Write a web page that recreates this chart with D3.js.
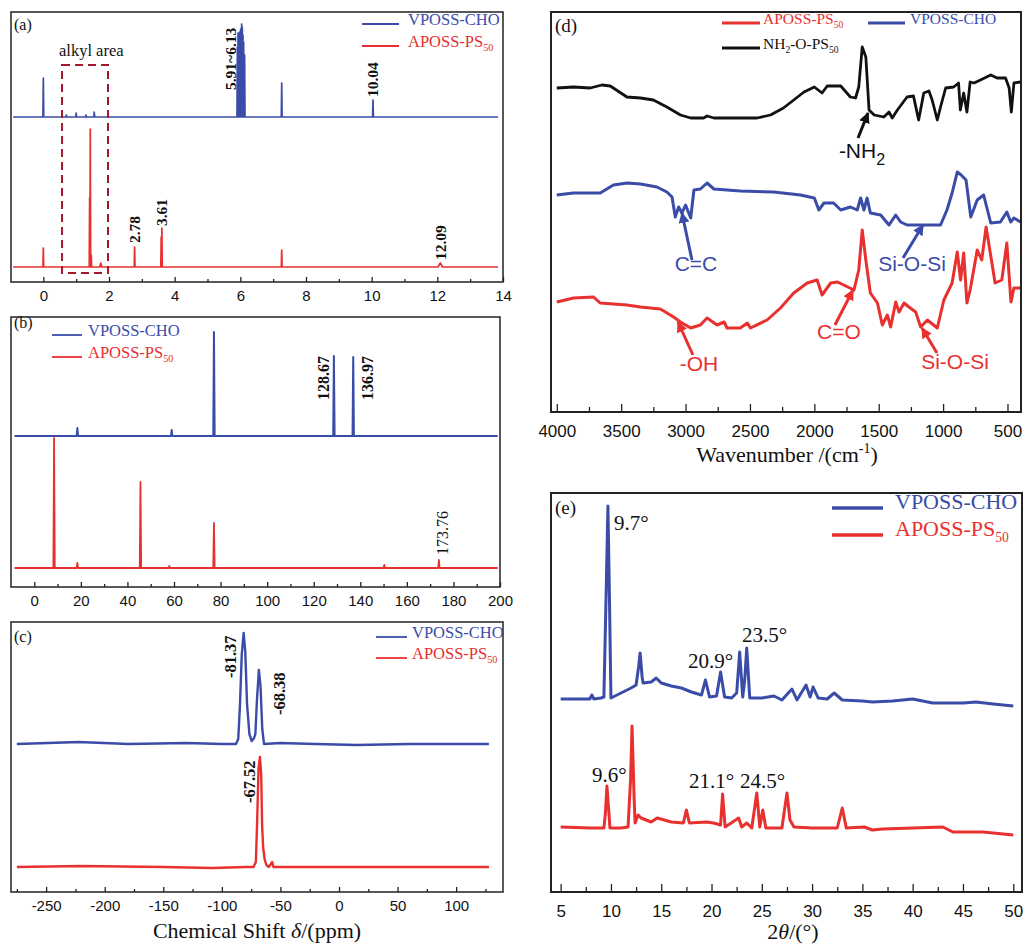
<!DOCTYPE html>
<html><head><meta charset="utf-8">
<script src="https://cdn.jsdelivr.net/npm/d3@7"></script>
<style>body{margin:0;background:#fff}svg{display:block}</style>
</head><body>
<svg id="c" width="1024" height="945"></svg>
<script>
// ---------------- DATA ----------------
const seriesNames = ["VPOSS-CHO", "APOSS-PS50", "NH2-O-PS50"];
// (a) 1H NMR stick peaks [ppm, height, halfwidth?]
const aTicks = [0, 2, 4, 6, 8, 10, 12, 14];
const aMinorTicks = [1, 3, 5, 7, 9, 11, 13];
const aBluePeaks = [[0, 39], [0.70, 2], [1.00, 4], [1.30, 2], [1.55, 5],
  [5.91, 70], [5.93, 84], [5.95, 80], [5.98, 85], [6.01, 88], [6.04, 93], [6.06, 90], [6.08, 82], [6.10, 75], [6.13, 62],
  [7.26, 34], [10.04, 17]];
const aRedPeaks = [[0, 19], [1.41, 69], [1.43, 138], [1.46, 12], [1.75, 4, 0.03], [2.78, 20], [3.59, 30], [3.61, 39],
  [7.26, 17], [12.09, 4, 0.07]];
const aOffsets = [165, 15];
const aLabels = [["5.91~6.13", 5.91], ["10.04", 10.04], ["2.78", 2.78], ["3.61", 3.61], ["12.09", 12.09]];
const aBox = [0.57, 1.97, 9, 217];

// (b) 13C NMR
const bTicks = [0, 20, 40, 60, 80, 100, 120, 140, 160, 180, 200];
const bMinorTicks = [10, 30, 50, 70, 90, 110, 130, 150, 170, 190];
const bBluePeaks = [[18.5, 8], [59, 6], [77.16, 104], [128.67, 80], [136.97, 79]];
const bRedPeaks = [[8.5, 130], [18.5, 5], [45.6, 86], [58, 2], [77.16, 45], [150.3, 3], [173.76, 8]];
const bOffsets = [151, 19];
const bLabels = [["128.67", 128.67], ["136.97", 136.97], ["173.76", 173.76]];

// (c) 29Si NMR [ppm, intensity above baseline]
const cTicks = [-250, -200, -150, -100, -50, 0, 50, 100];
const cMinorTicks = [-275, -225, -175, -125, -75, -25, 25, 75, 125];
const cBlue = [[-275, 0], [-222, 2], [-180, 0], [-130, 1], [-100, 0], [-88, 0], [-86, 5], [-84.5, 40], [-83, 90], [-81.4, 111],
  [-80, 92], [-78.5, 40], [-76.5, 10], [-74.5, 3], [-72.5, 6], [-71.4, 10], [-70, 45], [-68.4, 74], [-67, 58], [-65.5, 15],
  [-64, 0], [-50, 1], [-20, 0], [15, -1], [60, 0], [128, 0]];
const cRed = [[-275, 0], [-220, 1], [-150, 0], [-108, -1], [-80, 0], [-73, 0], [-71, 5], [-70, 40], [-68.7, 98], [-67.5, 110],
  [-66.4, 92], [-65.6, 40], [-64.7, 19], [-63.5, 8], [-62, 2], [-60, 0], [-57, 5], [-56, 0], [0, 0], [60, 0], [128, 0]];
const cOffsets = [148, 25];
const cLabels = [["-81.37", -81.37], ["-68.38", -68.38], ["-67.52", -67.52]];

// (d) FT-IR [wavenumber, transmittance a.u.]
const dTicks = [4000, 3500, 3000, 2500, 2000, 1500, 1000, 500];
const dMinorTicks = [3750, 3250, 2750, 2250, 1750, 1250, 750];
const dBlack = [[4000, 324], [3870, 325], [3740, 324], [3650, 327], [3585, 326], [3455, 315], [3350, 314], [3250, 312],
  [3145, 305], [3040, 297], [2960, 294], [2860, 294], [2833, 296], [2780, 294], [2445, 294], [2340, 297], [2240, 304],
  [2160, 312], [2080, 320], [2000, 325], [1940, 319], [1900, 326], [1795, 326], [1720, 315], [1680, 314], [1655, 325],
  [1628, 365], [1600, 355], [1575, 302], [1535, 297], [1460, 295], [1420, 300], [1395, 294], [1355, 302], [1280, 315],
  [1230, 316], [1190, 292], [1150, 319], [1110, 321], [1085, 312], [1045, 292], [1020, 305], [980, 324], [918, 325],
  [880, 329], [866, 302], [840, 319], [815, 300], [790, 330], [760, 329], [710, 332], [630, 337], [580, 334], [515, 334],
  [487, 324], [470, 300], [450, 329], [400, 330]];
const dBlue = [[4000, 217], [3870, 219], [3663, 219], [3560, 227], [3455, 229], [3350, 228], [3222, 225], [3145, 220],
  [3105, 215], [3080, 195], [3054, 205], [3028, 199], [3000, 207], [2960, 194], [2935, 222], [2885, 223], [2833, 229],
  [2780, 223], [2575, 221], [2315, 220], [2107, 217], [2000, 214], [1965, 202], [1925, 209], [1850, 209], [1795, 202],
  [1720, 205], [1667, 202], [1640, 214], [1615, 202], [1590, 214], [1565, 199], [1485, 197], [1420, 187], [1368, 197],
  [1330, 190], [1280, 187], [1020, 187], [970, 202], [930, 219], [890, 240], [860, 237], [822, 232], [785, 195],
  [735, 212], [685, 217], [630, 189], [555, 190], [505, 200], [475, 190], [450, 194], [400, 190]];
const dRed = [[4000, 110], [3870, 114], [3715, 115], [3663, 109], [3455, 107], [3350, 105], [3196, 103], [3093, 95],
  [3040, 90], [2960, 84], [2885, 87], [2833, 94], [2755, 87], [2700, 90], [2678, 84], [2575, 84], [2520, 89], [2496, 84],
  [2367, 92], [2263, 104], [2160, 119], [2055, 129], [1978, 132], [1940, 117], [1873, 129], [1820, 130], [1692, 122],
  [1655, 142], [1628, 182], [1600, 152], [1565, 119], [1510, 109], [1472, 87], [1433, 97], [1407, 85], [1368, 110],
  [1342, 100], [1303, 109], [1265, 105], [1213, 100], [1174, 85], [1122, 92], [1045, 84], [994, 112], [930, 129],
  [890, 160], [864, 132], [840, 159], [815, 109], [790, 122], [735, 162], [700, 152], [666, 185], [596, 129], [544, 132],
  [505, 169], [473, 110], [450, 124], [400, 124]];
// annotations: [text, sub, wavenumber, value, series]
const dNotes = [["-NH", "2", 1583, 299, 2], ["C=C", "", 3028, 199, 0], ["Si-O-Si", "", 1156, 187, 0],
  ["-OH", "", 3059, 90, 1], ["C=O", "", 1700, 122, 1], ["Si-O-Si", "", 1164, 84, 1]];

// (e) XRD [2theta, intensity]
const eTicks = [5, 10, 15, 20, 25, 30, 35, 40, 45, 50];
const eMinorTicks = [7.5, 12.5, 17.5, 22.5, 27.5, 32.5, 37.5, 42.5, 47.5];
const eBlue = [[5, 193], [7.9, 193], [8.1, 197], [8.3, 193], [9, 194], [9.3, 195], [9.55, 312], [9.7, 386], [9.85, 295],
  [10, 194], [11, 199], [12, 204], [12.5, 207], [12.75, 225], [12.9, 239], [13.1, 215], [13.2, 209], [14, 210], [14.5, 214],
  [15, 209], [16, 206], [17, 204], [18, 200], [19, 197], [19.4, 212], [19.8, 195], [20.5, 196], [20.9, 220], [21.3, 195],
  [22, 194], [22.5, 199], [22.8, 240], [23.1, 195], [23.3, 212], [23.5, 244], [23.8, 194], [25, 194], [26.2, 196],
  [27, 192], [28, 203], [28.5, 192], [29.4, 207], [29.8, 195], [30.1, 205], [30.6, 194], [31.5, 193], [32.2, 199],
  [33, 192], [35, 191], [36, 190], [38, 191], [40, 193], [42, 189], [45, 189], [46.3, 190], [48, 188], [50, 186]];
const eRed = [[5, 65], [8, 64], [9.3, 64], [9.45, 79], [9.6, 106], [9.8, 79], [9.9, 64], [11, 64], [11.7, 65], [11.95, 112],
  [12.1, 166], [12.3, 95], [12.4, 69], [12.7, 77], [13, 74], [14, 70], [14.6, 74], [16, 70], [17.2, 69], [17.5, 82],
  [17.8, 69], [19.5, 70], [20.2, 69], [20.9, 67], [21.1, 98], [21.35, 65], [22.7, 74], [23, 65], [23.5, 69], [24, 64],
  [24.5, 99], [24.8, 65], [25.1, 82], [25.4, 64], [27, 64], [27.5, 99], [27.8, 72], [28.2, 65], [30, 64], [32.5, 64],
  [33, 84], [33.4, 64], [35.2, 65], [36, 62], [37, 63], [43, 65], [44, 60], [47, 60], [50, 57]];
const eLabels = [["9.7°", 9.7, 0], ["20.9°", 20.9, 0], ["23.5°", 23.5, 0], ["9.6°", 9.6, 1], ["21.1°", 21.1, 1], ["24.5°", 24.5, 1]];

// ---------------- DRAWING ----------------
const BLUE = "#3a4ca8", RED = "#e8302f", BLACK = "#111", BOXRED = "#a0182a";
const colors = [BLUE, RED, BLACK];
const SERIF = "'Liberation Serif','Times New Roman',serif";
const SANS = "'Liberation Sans',Arial,sans-serif";
const svg = d3.select("#c");

function frame(x0, y0, x1, y1, sw) {
  svg.append("rect").attr("x", x0).attr("y", y0).attr("width", x1 - x0).attr("height", y1 - y0)
    .attr("fill", "none").attr("stroke", "#222").attr("stroke-width", sw);
}
function bottomAxis(scale, y, major, minor, majLen, minLen, pad, fs) {
  const gm = svg.append("g").attr("transform", `translate(0,${y})`)
    .call(d3.axisBottom(scale).tickValues(minor).tickSizeInner(-minLen).tickSizeOuter(0).tickFormat(""));
  gm.select(".domain").remove();
  gm.selectAll("line").attr("stroke", "#222").attr("stroke-width", 1.3);
  const g = svg.append("g").attr("transform", `translate(0,${y})`)
    .call(d3.axisBottom(scale).tickValues(major).tickSizeInner(-majLen).tickSizeOuter(0).tickPadding(pad).tickFormat(d => String(d)));
  g.select(".domain").remove();
  g.selectAll("line").attr("stroke", "#222").attr("stroke-width", 1.3);
  g.selectAll("text").attr("font-family", SANS).attr("font-size", fs).attr("fill", "#111");
}
function sticks(peaks, x0, x1, w) {
  const pts = [[x0, 0]];
  peaks.slice().sort((a, b) => a[0] - b[0]).forEach(p => {
    const hw = p[2] || w;
    pts.push([p[0] - hw, 0], [p[0], p[1]], [p[0] + hw, 0]);
  });
  pts.push([x1, 0]);
  return pts;
}
function drawLine(pts, x, y, off, color, sw) {
  svg.append("path").datum(pts)
    .attr("d", d3.line().x(d => x(d[0])).y(d => y(d[1] + off)))
    .attr("fill", "none").attr("stroke", color).attr("stroke-width", sw).attr("stroke-linejoin", "round");
}
function richText(parent, x, y, parts, fs, color, family, anchor) {
  const t = parent.append("text").attr("x", x).attr("y", y).attr("font-family", family)
    .attr("font-size", fs).attr("fill", color).attr("text-anchor", anchor || "start");
  parts.forEach(([s, sub]) => {
    if (sub) t.append("tspan").attr("font-size", fs * 0.62).attr("dy", fs * 0.28).text(s);
    else t.append("tspan").attr("dy", t.selectAll("tspan").size() ? -fs * 0.28 : 0).text(s);
  });
  return t;
}
function nameParts(i) {
  if (i === 0) return [["VPOSS-CHO", false]];
  if (i === 1) return [["APOSS-PS", false], ["50", true]];
  return [["NH", false], ["2", true], ["-O-PS", false], ["50", true]];
}
function legendItem(i, lx0, lx1, ly, tx, fs, sw) {
  svg.append("line").attr("x1", lx0).attr("x2", lx1).attr("y1", ly).attr("y2", ly)
    .attr("stroke", colors[i]).attr("stroke-width", sw);
  richText(svg, tx, ly + fs * 0.33, nameParts(i), fs, colors[i], SERIF);
}
function panelLabel(s, x, y, fs) {
  svg.append("text").attr("x", x).attr("y", y).attr("font-family", SERIF).attr("font-size", fs).attr("fill", "#111").text(s);
}
function vLabel(s, cx, yb, fs, bold, color) {
  svg.append("text").attr("transform", `translate(${cx},${yb}) rotate(-90)`).attr("dy", "0.35em")
    .attr("font-family", SERIF).attr("font-size", fs).attr("font-weight", bold ? "bold" : "normal")
    .attr("fill", color || "#111").text(s);
}

// ---- (a)
{
  const x = d3.scaleLinear().domain([-1, 14]).range([10.5, 503]);
  const y = d3.scaleLinear().domain([0, 270]).range([282, 12]);
  drawLine(sticks(aBluePeaks, -0.92, 13.85, 0.012), x, y, aOffsets[0], BLUE, 1.7);
  drawLine(sticks(aRedPeaks, -0.92, 13.85, 0.012), x, y, aOffsets[1], RED, 1.7);
  svg.append("rect").attr("x", x(aBox[0])).attr("y", y(aBox[3])).attr("width", x(aBox[1]) - x(aBox[0]))
    .attr("height", y(aBox[2]) - y(aBox[3])).attr("fill", "none").attr("stroke", BOXRED)
    .attr("stroke-width", 2).attr("stroke-dasharray", "8,5");
  svg.append("text").attr("x", 59).attr("y", 56).attr("font-family", SERIF).attr("font-size", 16.5).attr("fill", "#111").text("alkyl area");
  frame(11, 12, 503, 282, 1.5);
  bottomAxis(x, 282, aTicks, aMinorTicks, 5, 3, 8, 15);
  const pos = {"5.91~6.13": [-7, 90], "10.04": [0, 97], "2.78": [0, 243], "3.61": [0, 226], "12.09": [0, 260]};
  aLabels.forEach(([s, v]) => vLabel(s, x(v) + pos[s][0], pos[s][1], 15.5, true));
  legendItem(0, 362, 399, 24, 408, 16.5, 1.8);
  legendItem(1, 362, 399, 46, 408, 16.5, 1.8);
  panelLabel("(a)", 14, 30, 16);
}
// ---- (b)
{
  const x = d3.scaleLinear().domain([-10, 200]).range([11, 500]);
  const y = d3.scaleLinear().domain([0, 270]).range([587, 317]);
  drawLine(sticks(bBluePeaks, -8.5, 199, 0.3), x, y, bOffsets[0], BLUE, 2);
  drawLine(sticks(bRedPeaks, -8.5, 199, 0.3), x, y, bOffsets[1], RED, 1.8);
  frame(11, 317, 500, 587, 1.5);
  bottomAxis(x, 587, bTicks, bMinorTicks, 5, 3, 8, 15);
  vLabel("128.67", x(128.67) - 11, 400, 16, true);
  vLabel("136.97", x(136.97) + 14, 400, 16, true);
  vLabel("173.76", x(173.76) + 3, 555, 16, false);
  legendItem(0, 52, 82, 335, 88, 16.5, 1.8);
  legendItem(1, 52, 82, 357, 88, 16.5, 1.8);
  panelLabel("(b)", 14, 328, 16);
}
// ---- (c)
{
  const x = d3.scaleLinear().domain([-280, 140]).range([11, 503]);
  const y = d3.scaleLinear().domain([0, 270]).range([892, 622]);
  drawLine(cBlue, x, y, cOffsets[0], BLUE, 2.4);
  drawLine(cRed, x, y, cOffsets[1], RED, 2.4);
  frame(11, 622, 503, 892, 1.5);
  bottomAxis(x, 892, cTicks, cMinorTicks, 5, 3, 8, 15);
  vLabel("-81.37", x(-81.37) - 13, 678, 16.5, true);
  vLabel("-68.38", x(-68.38) + 20, 715, 16.5, true);
  vLabel("-67.52", x(-67.52) - 11, 803, 16.5, true);
  legendItem(0, 376, 407, 637, 412, 16.5, 1.8);
  legendItem(1, 376, 407, 658, 412, 16.5, 1.8);
  panelLabel("(c)", 14, 642, 16);
  const t = svg.append("text").attr("x", 257).attr("y", 938).attr("text-anchor", "middle")
    .attr("font-family", SERIF).attr("font-size", 22).attr("fill", "#111");
  t.append("tspan").text("Chemical Shift ");
  t.append("tspan").attr("font-style", "italic").text("δ");
  t.append("tspan").text("/(ppm)");
}
// ---- (d)
{
  const x = d3.scaleLinear().domain([4045, 395]).range([551, 1021]);
  const y = d3.scaleLinear().domain([0, 400]).range([412, 12]);
  drawLine(dBlack, x, y, 0, BLACK, 2.8);
  drawLine(dBlue, x, y, 0, BLUE, 3);
  drawLine(dRed, x, y, 0, RED, 3);
  frame(551, 12, 1021, 412, 2);
  bottomAxis(x, 412, dTicks, dMinorTicks, 8, 5, 13, 17);
  legendItem(1, 722, 760, 23, 763, 15.5, 3);
  legendItem(0, 868, 905, 23, 910, 15.5, 3);
  legendItem(2, 722, 760, 48, 763, 15.5, 3);
  panelLabel("(d)", 555, 32, 19);
  // arrows
  const defs = svg.append("defs");
  colors.forEach((c, i) => {
    defs.append("marker").attr("id", "ah" + i).attr("viewBox", "0 0 10 10").attr("refX", 9).attr("refY", 5)
      .attr("markerWidth", 11).attr("markerHeight", 11).attr("markerUnits", "userSpaceOnUse").attr("orient", "auto")
      .append("path").attr("d", "M0,0 L10,5 L0,10 Z").attr("fill", c);
  });
  const tails = [[-10, 25], [10, 47], [-20, 33], [15, 33], [-18, 35], [15, 25]];
  const texts = [[862, 164], [696, 277], [912, 277], [699, 377], [839, 345], [955, 375]];
  dNotes.forEach(([s, sub, wn, v, si], i) => {
    const tx = x(wn), ty = y(v);
    svg.append("line").attr("x1", tx + tails[i][0]).attr("y1", ty + tails[i][1]).attr("x2", tx).attr("y2", ty)
      .attr("stroke", colors[si]).attr("stroke-width", 3).attr("marker-end", `url(#ah${si})`);
    const parts = sub ? [[s, false], [sub, true]] : [[s, false]];
    const t = richText(svg, texts[i][0], texts[i][1], parts, 21, colors[si], SANS, "middle");
    if (sub) t.selectAll("tspan").filter((d, k) => k === 1).attr("font-size", 16).attr("dy", 7);
  });
  const t = svg.append("text").attr("x", 787).attr("y", 462).attr("text-anchor", "middle")
    .attr("font-family", SERIF).attr("font-size", 22).attr("fill", "#111");
  t.append("tspan").text("Wavenumber /(cm");
  t.append("tspan").attr("font-size", 14).attr("dy", -9).text("-1");
  t.append("tspan").attr("dy", 9).text(")");
}
// ---- (e)
{
  const x = d3.scaleLinear().domain([4.04, 50.87]).range([551, 1022]);
  const y = d3.scaleLinear().domain([0, 400]).range([892, 492]);
  drawLine(eBlue, x, y, 0, BLUE, 3);
  drawLine(eRed, x, y, 0, RED, 3);
  frame(551, 493, 1022, 892, 2);
  bottomAxis(x, 892, eTicks, eMinorTicks, 8, 5, 13, 17);
  const lp = [[614, 530], [688, 668], [742, 642], [592, 782], [689, 788], [740, 788]];
  eLabels.forEach(([s, v, si], i) => {
    svg.append("text").attr("x", lp[i][0]).attr("y", lp[i][1]).attr("font-family", SERIF)
      .attr("font-size", 21).attr("fill", "#111").text(s);
  });
  legendItem(0, 832, 883, 508, 895, 22, 3.5);
  legendItem(1, 832, 883, 535, 895, 22, 3.5);
  panelLabel("(e)", 555, 514, 19);
  const t = svg.append("text").attr("x", 793).attr("y", 939).attr("text-anchor", "middle")
    .attr("font-family", SERIF).attr("font-size", 22).attr("fill", "#111");
  t.append("tspan").text("2");
  t.append("tspan").attr("font-style", "italic").text("θ");
  t.append("tspan").text("/(°)");
}
</script>
</body></html>
